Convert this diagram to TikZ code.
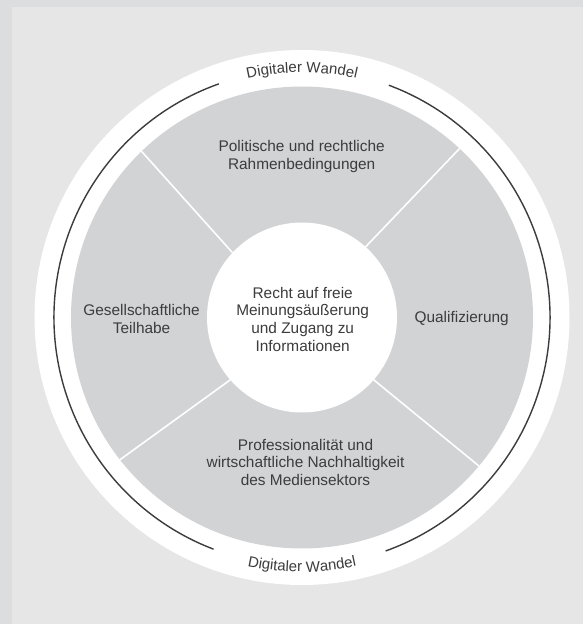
\documentclass[tikz,border=0pt]{standalone}
\usepackage{fontspec}
\setmainfont{Liberation Sans}
\usetikzlibrary{decorations.text}
\definecolor{stripc}{HTML}{DCDDDF}
\definecolor{panelc}{HTML}{E6E6E6}
\definecolor{discc}{HTML}{D2D3D5}
\definecolor{txtc}{HTML}{3C3C3C}
\definecolor{arcc}{HTML}{3C3C3C}
\newcommand\arcfont{\fontsize{15}{18}\selectfont\color{txtc}}
\begin{document}
\begin{tikzpicture}[x=1pt,y=1pt,
  lbl/.style={text=txtc, align=center, inner sep=0pt, font=\fontsize{15.4}{17.6}\selectfont},
  ring/.style={circle, inner sep=0pt, outer sep=0pt, draw=none},
  divider/.style={draw=white, line width=1.6pt},
  band/.style={draw=arcc, line width=1.4pt},
  arctext/.style={decorate, decoration={text along path, text align=center, text={|\arcfont|Digitaler Wandel}}}
]
\useasboundingbox (-302,-306.5) rectangle (281,317.5);
\fill[stripc] (-302,-306.5) rectangle (281,317.5);
\fill[panelc] (-290,-306.5) rectangle (281,310.5);
\node[ring, fill=white, minimum size=535pt] (outer) at (0,0) {};
\draw[band] (69.5:248) arc[start angle=69.5, end angle=-70.3, radius=248];
\draw[band] (109.6:248) arc[start angle=109.6, end angle=249.1, radius=248];
\node[ring, fill=discc, minimum size=462pt] (disc) at (0,0) {};
\node[ring, fill=white, minimum size=190pt] (core) at (0,0) {};
\draw[divider] (core.137) -- (disc.134);
\draw[divider] (core.48.6) -- (disc.47.2);
\draw[divider] (core.221) -- (disc.218.5);
\draw[divider] (core.-41.7) -- (disc.-40.7);
\node[lbl] (ctext) at (0.7,-1.7) {Recht auf freie\\Meinungsäußerung\\und Zugang zu\\Informationen};
\node[lbl] (toplbl) at (-0.3,161) {Politische und rechtliche\\Rahmenbedingungen};
\node[lbl] (leftlbl) at (-160.4,-1.4) {Gesellschaftliche\\Teilhabe};
\node[lbl] (rightlbl) at (159.7,-1.5) {Qualifizierung};
\node[lbl] (botlbl) at (3.5,-144.7) {Professionalität und\\wirtschaftliche Nachhaltigkeit\\des Mediensektors};
\path[arctext] (110:245) arc[start angle=110, end angle=70, radius=245];
\path[arctext] (-110:254.5) arc[start angle=-110, end angle=-70, radius=254.5];
\end{tikzpicture}
\end{document}
